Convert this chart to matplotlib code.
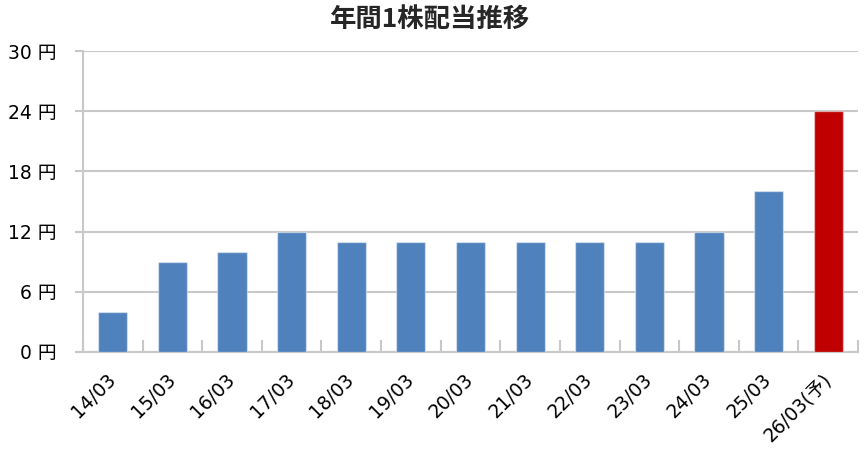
import matplotlib.pyplot as plt
import numpy as np

plt.rcParams['font.family'] = ['DejaVu Sans', 'Noto Sans CJK JP']

labels = ["14/03", "15/03", "16/03", "17/03", "18/03", "19/03", "20/03",
          "21/03", "22/03", "23/03", "24/03", "25/03", "26/03(予)"]
dividend = [4, 9, 10, 12, 11, 11, 11, 11, 11, 11, 12, 16, 24]
colors = ["#4F81BD"] * 12 + ["#C00000"]
y_ticks = [0, 6, 12, 18, 24, 30]

fig = plt.figure(figsize=(8.68, 4.71), dpi=100)
ax = fig.add_axes([0.0956, 0.2527, 0.8929, 0.639])

x = np.arange(len(labels))
ax.bar(x, dividend, width=0.49, color=colors, edgecolor=(1, 1, 1, 0.45),
       linewidth=1, zorder=3)

ax.set_xlim(-0.5, len(labels) - 0.5)
ax.set_ylim(0, 30)
ax.set_yticks(y_ticks)
ax.set_yticklabels([f"{v} 円" for v in y_ticks], fontsize=13.5)
ax.set_xticks(x)
ax.set_xticklabels(labels, rotation=45, ha="right", va="center",
                   rotation_mode="anchor", fontsize=13.5)
ax.tick_params(axis="x", length=0, pad=18)
ax.set_xticks(np.arange(-0.5, len(labels)), minor=True)
ax.tick_params(axis="x", which="minor", direction="in", length=9,
               color="#c8c8c8", width=1.5)
ax.tick_params(axis="y", length=6, color="#c8c8c8", width=1.5, pad=13)

ax.grid(axis="y", color="#c8c8c8", linewidth=1.5, zorder=0)
for side in ["top", "right"]:
    ax.spines[side].set_visible(False)
for side in ["left", "bottom"]:
    ax.spines[side].set_color("#c8c8c8")
    ax.spines[side].set_linewidth(1.5)

fig.suptitle("年間1株配当推移", fontsize=19, fontweight="bold", x=0.495, y=0.985,
             family=['Noto Sans CJK JP', 'DejaVu Sans'], color="#262626")

fig.savefig("out.png", dpi=100)
